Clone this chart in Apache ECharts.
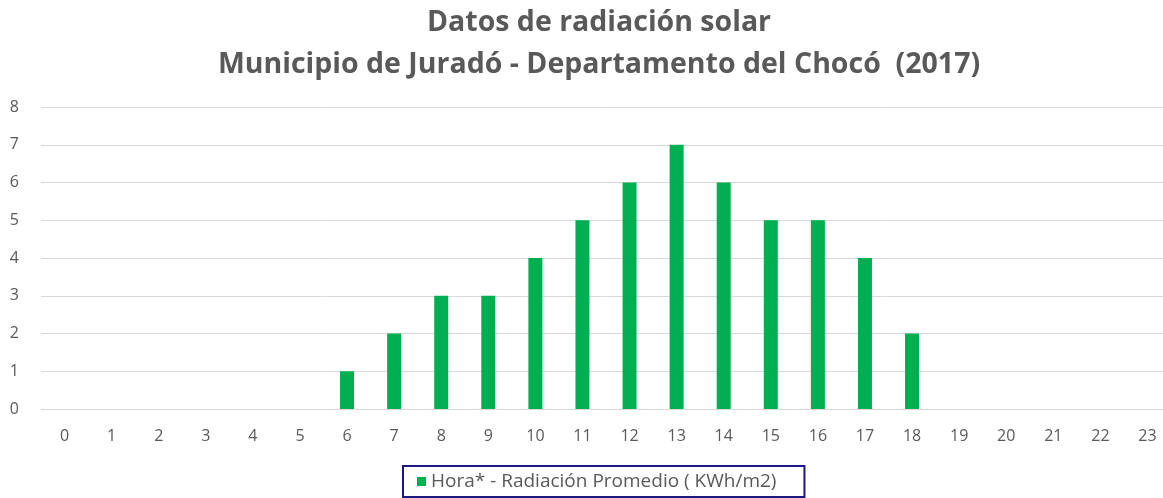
<!DOCTYPE html>
<html>
<head>
<meta charset="utf-8">
<script src="https://cdn.jsdelivr.net/npm/echarts@6/dist/echarts.min.js"></script>
<style>
  html, body { margin: 0; padding: 0; background: #fff; }
  #main { width: 1163px; height: 498px; }
</style>
</head>
<body>
<div id="main"></div>
<script>
var horas = ['0', '1', '2', '3', '4', '5', '6', '7', '8', '9', '10', '11',
    '12', '13', '14', '15', '16', '17', '18', '19', '20', '21', '22', '23'];
var radiacion = [0, 0, 0, 0, 0, 0, 1, 2, 3, 3, 4, 5,
    6, 7, 6, 5, 5, 4, 2, 0, 0, 0, 0, 0];
var serieNombre = 'Hora* - Radiación Promedio ( KWh/m2)';

var myChart = echarts.init(document.getElementById('main'));

option = {
    animation: false,
    title: {
        text: 'Datos de radiación solar\nMunicipio de Juradó - Departamento del Chocó  (2017)',
        left: 594,
        textAlign: 'center',
        top: -3,
        textStyle: {
            color: '#595959',
            fontWeight: 'bold',
            fontSize: 28.5,
            fontFamily: 'Open Sans',
            lineHeight: 42
        }
    },
    legend: {
        data: [serieNombre],
        bottom: 1,
        left: 403,
        icon: 'rect',
        itemWidth: 9,
        itemHeight: 9,
        itemGap: 7,
        padding: [6, 28, 6, 14],
        borderColor: '#1a1a80',
        borderWidth: 2,
        textStyle: {
            color: '#595959',
            fontSize: 19,
            fontFamily: 'Open Sans'
        }
    },
    grid: {
        left: 41,
        top: 107,
        width: 1130,
        height: 302,
        outerBoundsMode: 'none'
    },
    xAxis: {
        type: 'category',
        data: horas,
        axisLine: { show: false },
        axisTick: { show: false },
        axisLabel: {
            color: '#595959',
            fontSize: 16,
            fontFamily: 'Open Sans',
            margin: 19
        }
    },
    yAxis: {
        type: 'value',
        min: 0,
        max: 8,
        interval: 1,
        axisLine: { show: false },
        axisTick: { show: false },
        axisLabel: {
            color: '#595959',
            fontSize: 16,
            fontFamily: 'Open Sans',
            margin: 22
        },
        splitLine: {
            lineStyle: { color: '#d9d9d9', width: 1 }
        }
    },
    series: [{
        name: serieNombre,
        type: 'bar',
        data: radiacion,
        barWidth: 14,
        itemStyle: { color: '#00b050' }
    }]
};
myChart.setOption(option);
</script>
</body>
</html>
